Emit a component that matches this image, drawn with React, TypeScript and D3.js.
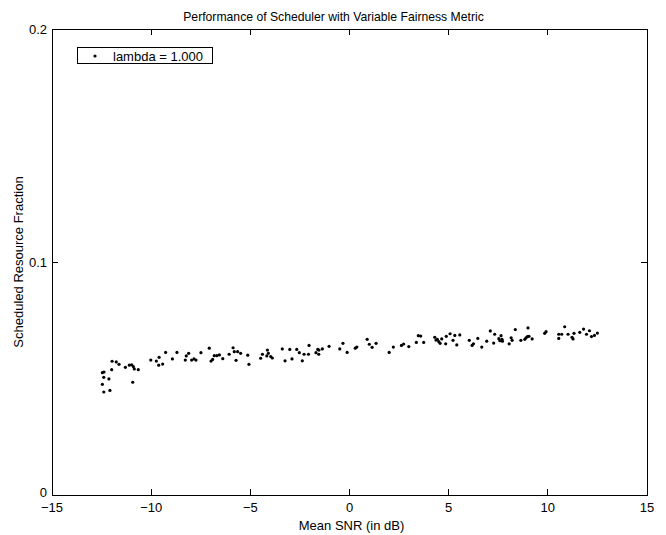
import React from "react";
import * as d3 from "d3";

const snrDb: number[] = [
  -12.46, -12.38, -12.39, -12.13, -12.46, -12.39, -12.08, -11.97, -11.76, -11.99,
  -11.62, -11.3, -11.1, -10.98, -10.9, -10.85, -10.65, -10.93, -10.02, -9.74,
  -9.6, -9.62, -9.42, -9.27, -8.93, -8.7, -8.28, -8.23, -8.11, -7.96,
  -7.84, -7.74, -7.49, -7.07, -6.98, -6.9, -6.82, -6.69, -6.56, -6.39,
  -6.07, -5.87, -5.81, -5.72, -5.64, -5.49, -5.13, -5.07, -4.48, -4.39,
  -4.17, -4.14, -4.09, -3.97, -3.89, -3.39, -3.25, -3.01, -2.9, -2.66,
  -2.53, -2.38, -2.29, -2.07, -2.04, -1.69, -1.6, -1.55, -1.54, -1.37,
  -1.03, -0.49, -0.33, -0.12, 0.29, 0.37, 0.89, 1.0, 1.14, 1.34,
  2.0, 2.21, 2.62, 2.73, 2.99, 3.37, 3.47, 3.59, 3.74, 4.3,
  4.36, 4.43, 4.5, 4.57, 4.65, 4.85, 4.88, 5.07, 5.22, 5.31,
  5.41, 5.56, 6.04, 6.18, 6.25, 6.47, 6.67, 6.92, 7.1, 7.27,
  7.32, 7.53, 7.58, 7.64, 7.69, 7.71, 8.05, 8.15, 8.2, 8.36,
  8.64, 8.84, 8.9, 8.97, 9.0, 9.05, 9.21, 9.84, 9.91, 10.55,
  10.55, 10.7, 10.85, 11.02, 11.22, 11.27, 11.32, 11.61, 11.8, 11.95,
  12.1, 12.2, 12.35, 12.5,
];

const resourceFraction: number[] = [
  0.0525, 0.0528, 0.0505, 0.0498, 0.0475, 0.0442, 0.0449, 0.0574, 0.0571, 0.0538,
  0.0561, 0.0548, 0.0557, 0.0559, 0.0551, 0.0541, 0.0538, 0.0484, 0.0579, 0.0575,
  0.0591, 0.0557, 0.0562, 0.0612, 0.0584, 0.0612, 0.0579, 0.0597, 0.0608, 0.0579,
  0.0584, 0.0579, 0.0611, 0.063, 0.0575, 0.0582, 0.0598, 0.0598, 0.0601, 0.0585,
  0.0604, 0.0632, 0.0615, 0.0578, 0.0615, 0.0608, 0.06, 0.0561, 0.0587, 0.0604,
  0.0597, 0.0622, 0.0608, 0.0594, 0.0588, 0.0627, 0.0576, 0.0625, 0.0584, 0.0625,
  0.0611, 0.0576, 0.0604, 0.0604, 0.0642, 0.0611, 0.0625, 0.0604, 0.0622, 0.0627,
  0.0638, 0.0627, 0.0651, 0.0612, 0.063, 0.0635, 0.0668, 0.0647, 0.0634, 0.0651,
  0.0612, 0.0635, 0.0642, 0.0648, 0.0637, 0.0655, 0.0684, 0.0682, 0.0655, 0.0677,
  0.0665, 0.0668, 0.0658, 0.0651, 0.067, 0.0649, 0.0681, 0.0692, 0.0664, 0.0685,
  0.0644, 0.0687, 0.0664, 0.0642, 0.0649, 0.0672, 0.0635, 0.066, 0.0704, 0.0652,
  0.069, 0.0671, 0.0662, 0.0684, 0.0668, 0.066, 0.0649, 0.0675, 0.0664, 0.071,
  0.0664, 0.0668, 0.0675, 0.068, 0.0717, 0.0681, 0.067, 0.0694, 0.0701, 0.069,
  0.0672, 0.069, 0.0722, 0.069, 0.0677, 0.067, 0.0694, 0.0698, 0.0712, 0.069,
  0.0705, 0.068, 0.0685, 0.0695,
];

const xTicks: number[] = [-15, -10, -5, 0, 5, 10, 15];
const yTicks: number[] = [0, 0.1, 0.2];
const yTickLabels: string[] = ["0", "0.1", "0.2"];
const legendLabel = "lambda = 1.000";
const titleText = "Performance of Scheduler with Variable Fairness Metric";
const xLabelText = "Mean SNR (in dB)";
const yLabelText = "Scheduled Resource Fraction";

const W = 666;
const H = 535;
const L = 52;
const R = 647;
const T = 29;
const B = 495;
const FONT = "'Liberation Sans', Arial, Helvetica, sans-serif";

export default function App() {
  const x = d3.scaleLinear().domain([-15, 15]).range([L, R]);
  const y = d3.scaleLinear().domain([0, 0.2]).range([B, T]);
  const tick = 6;
  const fmtX = (v: number) => (v < 0 ? "\u2212" + Math.abs(v) : String(v));

  return (
    <svg
      width={W}
      height={H}
      style={{ position: "absolute", left: 0, top: 0, background: "#fff" }}
      fontFamily={FONT}
    >
      <rect x={0} y={0} width={W} height={H} fill="#fff" />
      <rect x={L} y={T} width={R - L} height={B - T} fill="#fff" stroke="#000" strokeWidth={1} shapeRendering="crispEdges" />
      {xTicks.map((v) => (
        <g key={"xt" + v}>
          <line x1={x(v)} x2={x(v)} y1={B} y2={B - tick} stroke="#000" shapeRendering="crispEdges" />
          <line x1={x(v)} x2={x(v)} y1={T} y2={T + tick} stroke="#000" shapeRendering="crispEdges" />
          <text x={x(v)} y={511.5} fontSize={13} textAnchor="middle" fill="#000">
            {fmtX(v)}
          </text>
        </g>
      ))}
      {yTicks.map((v, i) => (
        <g key={"yt" + v}>
          <line x1={L} x2={L + tick} y1={y(v)} y2={y(v)} stroke="#000" shapeRendering="crispEdges" />
          <line x1={R} x2={R - tick} y1={y(v)} y2={y(v)} stroke="#000" shapeRendering="crispEdges" />
          <text x={L - 5} y={y(v) + (v === 0 ? 1.5 : 4.5)} fontSize={13} textAnchor="end" fill="#000">
            {yTickLabels[i]}
          </text>
        </g>
      ))}
      {snrDb.map((v, i) => (
        <circle key={"p" + i} cx={x(v)} cy={y(resourceFraction[i])} r={1.6} fill="#000" />
      ))}
      <text x={333.5} y={21} fontSize={12.2} textAnchor="middle" fill="#000">
        {titleText}
      </text>
      <text x={(L + R) / 2 + 2} y={530} fontSize={13} textAnchor="middle" fill="#000">
        {xLabelText}
      </text>
      <text
        transform={`translate(23,${(T + B) / 2}) rotate(-90)`}
        fontSize={13}
        textAnchor="middle"
        fill="#000"
      >
        {yLabelText}
      </text>
      <g>
        <rect x={77.5} y={47.5} width={135} height={16} fill="#fff" stroke="#000" strokeWidth={1} />
        <circle cx={95} cy={56} r={1.6} fill="#000" />
        <text x={113} y={60.5} fontSize={13} fill="#000">
          {legendLabel}
        </text>
      </g>
    </svg>
  );
}
